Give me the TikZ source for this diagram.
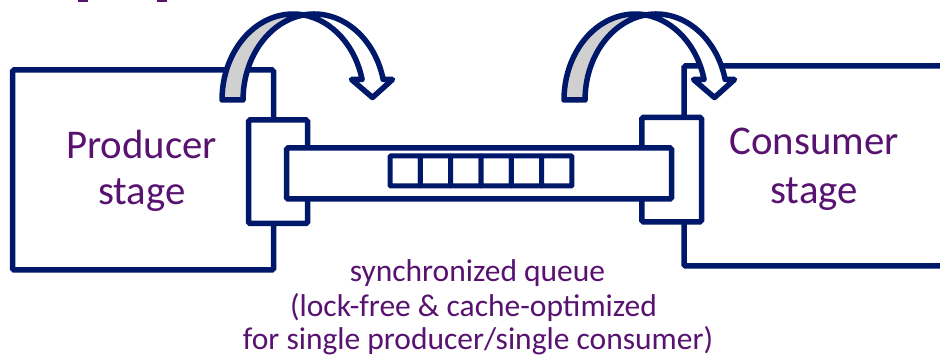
\documentclass[tikz,border=0pt]{standalone}
\usepackage{fontspec}
\setmainfont{Carlito}
\definecolor{navy}{RGB}{0,24,106}
\definecolor{plum}{RGB}{88,18,112}
\definecolor{shade}{RGB}{208,208,208}
\tikzset{
  frame/.style={draw=navy, line width=5.5pt, fill=white, rounded corners=1.5pt,
    inner sep=0pt, outer sep=0pt},
  cell/.style={draw=navy, line width=5pt, fill=white, rounded corners=1pt,
    minimum width=30.33pt, minimum height=30pt, inner sep=0pt, outer sep=0pt},
  label/.style={text=plum, font=\fontsize{40.8}{47}\selectfont, anchor=base, inner sep=0pt},
  caption/.style={text=plum, font=\fontsize{31.5}{34}\selectfont, anchor=base, inner sep=0pt},
  hop/.style={draw=navy, line width=5.5pt, line join=round},
}
% curved hand-over arrow: back face (grey) and front face with head (white)
\newcommand{\handover}{%
  \path[hop, fill=shade]
    (222,-100) arc[start angle=180, end angle=81.5, x radius=71.2, y radius=86]
    arc[start angle=98.5, end angle=180, x radius=71.2, y radius=86] -- cycle;
  \path[hop, fill=white]
    (303.52,-14.94) arc[start angle=98.5, end angle=13.8, x radius=71.2, y radius=86]
    -- (392.5,-79.5) -- (372.5,-97.5) -- (351.5,-79.5) -- (362.1,-79.5)
    arc[start angle=13.8, end angle=81.5, x radius=71.2, y radius=86] -- cycle;
}
\begin{document}
\begin{tikzpicture}[x=1pt, y=1pt]
  \clip (0,0) rectangle (940,-363);
  \fill[white] (0,0) rectangle (940,-363);
  % cropped glyph feet along the top edge
  \fill[plum] (78,0) rectangle (88,-1.8);
  \fill[plum] (157,0) rectangle (167,-1.8);

  % the two stages
  \node[frame, minimum width=261pt, minimum height=200pt] (producer) at (143,-170) {};
  \node[frame, minimum width=300pt, minimum height=200pt, anchor=west] (consumer) at (684,-166) {};

  % hand-over arrows
  \handover
  \begin{scope}[xshift=342pt]
    \handover
  \end{scope}

  % ports where the queue plugs in
  \node[frame, minimum width=59pt, minimum height=103.5pt] (pport) at (278,-171.75) {};
  \node[frame, minimum width=59.7pt, minimum height=104.3pt] (cport) at (671.65,-169.65) {};

  % the queue and its slots
  \node[frame, minimum width=385pt, minimum height=51pt] (queue) at (479,-173.5) {};
  \foreach \i in {0,...,5} {
    \node[cell] (slot\i) at ({405.17+30.33*\i},-171) {};
  }

  % texts
  \node[label] (ptitle) at (141.7,-158.3) {Producer};
  \node[label] (pstage) at (141.7,-205) {stage};
  \node[label] (ctitle) at (814,-155) {Consumer};
  \node[label] (cstage) at (814,-203.3) {stage};
  \node[caption] (cap1) at (477.5,-281.7) {synchronized queue};
  \node[caption] (cap2) at (473.5,-316.7) {(lock-free \& cache-optimized};
  \node[caption] (cap3) at (478,-350) {for single producer/single consumer)};
\end{tikzpicture}
\end{document}
